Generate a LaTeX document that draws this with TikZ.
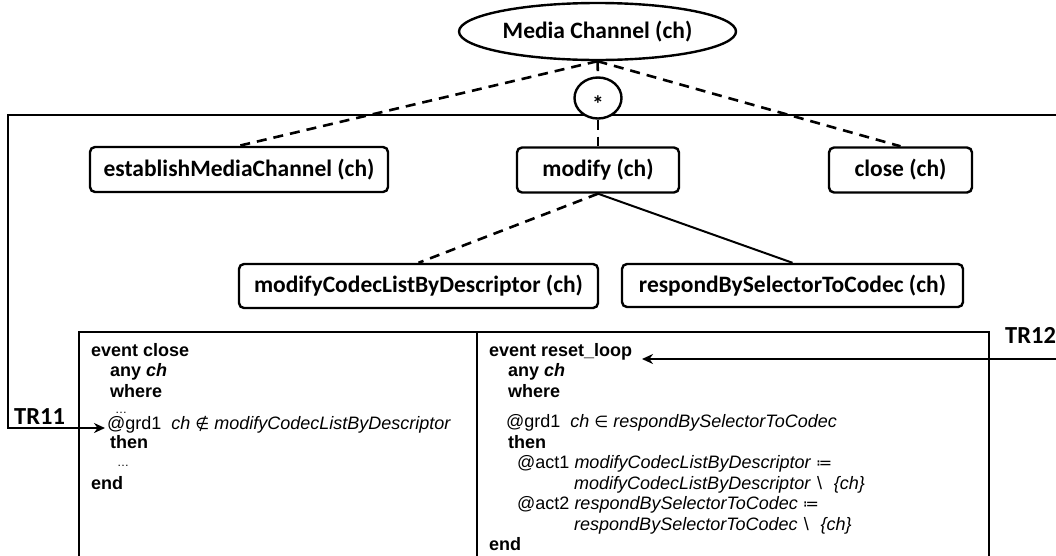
\documentclass[tikz,border=0pt]{standalone}
\usepackage{fontspec}
\usetikzlibrary{shapes.geometric,arrows.meta}
\setmainfont{Liberation Sans}
\newfontfamily\treefont{Carlito}
\newfontfamily\codefont{Liberation Sans}
\newfontfamily\opfont{DejaVu Sans}
\newcommand{\op}[1]{{\opfont\fontsize{16}{20}\selectfont #1}}
\newcommand{\setminusop}{\hspace{0.35em}\textbackslash\hspace{0.65em}}

\begin{document}
\begin{tikzpicture}[x=1pt,y=-1pt,
  treebox/.style={draw, rounded corners=5pt, line width=2.4pt, inner sep=0pt,
    minimum height=45pt, font=\treefont\bfseries\fontsize{23.5}{26}\selectfont},
  treeoval/.style={draw, ellipse, line width=2.4pt, inner sep=0pt, fill=white,
    font=\treefont\bfseries\fontsize{23.5}{26}\selectfont},
  starmark/.style={inner sep=0pt, font=\treefont\bfseries\fontsize{23.5}{26}\selectfont},
  dashlink/.style={line width=2.6pt, dash pattern=on 10pt off 7pt},
  solidlink/.style={line width=2pt},
  looparrow/.style={line width=2.4pt, -{Stealth[length=11pt,width=10pt]}},
  codeline/.style={anchor=base west, inner sep=0pt,
    font=\codefont\fontsize{18}{20}\selectfont},
  trlabel/.style={anchor=base west, inner sep=0pt,
    font=\treefont\bfseries\fontsize{24.5}{28}\selectfont}]

\useasboundingbox (0,0) rectangle (1056,555);
\clip (0,0) rectangle (1056,555);

% event table
\draw[line width=2pt] (79,332) rectangle (989,570);
\draw[line width=1.6pt] (477,332) -- (477,570);

% left column: event close
\node[codeline] (evL)    at (91,356)  {\textbf{event close}};
\node[codeline] (anyL)   at (110,376) {\textbf{any \textit{ch}}};
\node[codeline] (whereL) at (110,397) {\textbf{where}};
\node[codeline] (dotsL)  at (115,413) {\fontsize{12}{12}\selectfont …};
\node[codeline] (grdL)   at (107,429) {@grd1\hspace{0.55em}\textit{ch} \op{∉} \textit{modifyCodecListByDescriptor}};
\node[codeline] (thenL)  at (110,448) {\textbf{then}};
\node[codeline] (dotsL2) at (117,466) {\fontsize{12}{12}\selectfont …};
\node[codeline] (endL)   at (91,489)  {\textbf{end}};

% right column: event reset_loop
\node[codeline] (evR)    at (489,356) {\textbf{event reset\_loop}};
\node[codeline] (anyR)   at (508,376) {\textbf{any \textit{ch}}};
\node[codeline] (whereR) at (508,397) {\textbf{where}};
\node[codeline] (grdR)   at (506,427) {@grd1\hspace{0.55em}\textit{ch} \op{∈} \textit{respondBySelectorToCodec}};
\node[codeline] (thenR)  at (508,448) {\textbf{then}};
\node[codeline] (act1)   at (517,468) {@act1 \textit{modifyCodecListByDescriptor} \op{≔}};
\node[codeline] (act1b)  at (574,489) {\textit{modifyCodecListByDescriptor}\setminusop\textit{\{ch\}}};
\node[codeline] (act2)   at (517,509) {@act2 \textit{respondBySelectorToCodec} \op{≔}};
\node[codeline] (act2b)  at (574,530) {\textit{respondBySelectorToCodec}\setminusop\textit{\{ch\}}};
\node[codeline] (endR)   at (489,550) {\textbf{end}};

% trace links
\coordinate (topR)  at (1060,115);
\coordinate (topL)  at (8,115);
\coordinate (tr11tip) at (105,428);
\coordinate (tr12in)  at (1060,359);
\coordinate (tr12tip) at (642,359);
\draw[looparrow] (topR) -- (topL) -- (topL |- tr11tip) -- (tr11tip);
\draw[looparrow] (tr12in) -- (tr12tip);
\node[trlabel] (tr11) at (14,424) {TR11};
\node[trlabel] (tr12) at (1005,343) {TR12};

% refinement tree
\node[treeoval, minimum width=277pt, minimum height=57pt] (mc) at (597.5,31.5) {Media Channel (ch)};
\node[treeoval, minimum width=47pt, minimum height=41pt] (star) at (598,98) {};
\node[starmark] (starsym) at ([yshift=-6pt]star.center) {*};
\node[treebox, minimum width=298pt] (est) at (239,169.5) {establishMediaChannel (ch)};
\node[treebox, minimum width=162pt] (mod) at (598,170) {modify (ch)};
\node[treebox, minimum width=143pt] (cls) at (900.5,170) {close (ch)};
\node[treebox, minimum width=359pt, minimum height=44pt] (mcl) at (418.5,286) {modifyCodecListByDescriptor (ch)};
\node[treebox, minimum width=341pt, minimum height=43pt] (rsp) at (792.5,285.5) {respondBySelectorToCodec (ch)};

\draw[dashlink] (mc.south) -- (est.north);
\draw[dashlink] (mc.south) -- (cls.north);
\draw[dashlink] (mc.south) -- (star.north);
\draw[dashlink] (star.south) -- (mod.north);
\draw[dashlink] (mod.south) -- (mcl.north);
\draw[solidlink] (mod.south) -- (rsp.north);
\end{tikzpicture}
\end{document}
